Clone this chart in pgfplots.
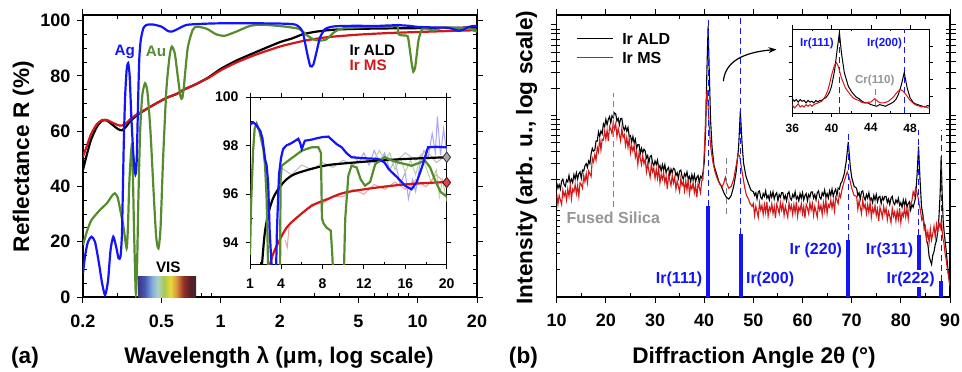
\documentclass[border=0pt]{standalone}
\usepackage{pgfplots}
\pgfplotsset{compat=1.18}
\usepackage{pgfplotstable}
\usepackage{fontspec}
\setmainfont{Liberation Sans}
\usetikzlibrary{arrows.meta}
\definecolor{agblue}{RGB}{20,20,250}
\definecolor{augreen}{RGB}{85,140,45}
\definecolor{irred}{RGB}{210,25,25}
\definecolor{labgray}{RGB}{150,150,150}
\definecolor{v1}{RGB}{60,50,130}
\definecolor{v2}{RGB}{70,90,180}
\definecolor{v3}{RGB}{130,170,220}
\definecolor{v4}{RGB}{170,210,200}
\definecolor{v5}{RGB}{170,200,80}
\definecolor{v6}{RGB}{230,220,60}
\definecolor{v7}{RGB}{220,150,60}
\definecolor{v8}{RGB}{150,50,40}
\definecolor{v9}{RGB}{90,30,40}
\definecolor{v10}{RGB}{60,40,40}
\pgfdeclarehorizontalshading{vis}{100bp}{color(0bp)=(v1); color(25bp)=(v1); color(31bp)=(v2); color(37bp)=(v3); color(42bp)=(v4); color(47.5bp)=(v5); color(53bp)=(v6); color(58bp)=(v7); color(64bp)=(v8); color(70bp)=(v9); color(75bp)=(v10); color(100bp)=(v10)}

\pgfplotsset{
  mixticks/.style={
    tick align=outside,
    major tick length=2.8pt,
    every tick/.style={black, line width=0.5pt},
    /pgf/number format/assume math mode=true,
  },
}

\pgfplotstableread{
x d
10.00 1.26
10.25 1.20
10.50 1.24
10.75 1.19
11.00 1.28
11.25 1.30
11.50 1.24
11.75 1.22
12.00 1.29
12.25 1.27
12.50 1.34
12.75 1.26
13.00 1.30
13.25 1.26
13.50 1.35
13.75 1.30
14.00 1.37
14.25 1.30
14.50 1.36
14.75 1.38
15.00 1.31
15.25 1.40
15.50 1.39
15.75 1.45
16.00 1.47
16.25 1.43
16.50 1.50
16.75 1.47
17.00 1.58
17.25 1.64
17.50 1.61
17.75 1.62
18.00 1.72
18.25 1.72
18.50 1.82
18.75 1.77
19.00 1.83
19.25 1.80
19.50 1.91
19.75 1.88
20.00 1.96
20.25 1.90
20.50 1.96
20.75 1.99
21.00 1.92
21.25 2.00
21.50 1.98
21.75 2.03
22.00 2.02
22.25 1.94
22.50 1.97
22.75 1.90
23.00 1.97
23.25 1.97
23.50 1.88
23.75 1.84
24.00 1.88
24.25 1.83
24.50 1.87
24.75 1.77
25.00 1.78
25.25 1.71
25.50 1.77
25.75 1.70
26.00 1.74
26.25 1.64
26.50 1.68
26.75 1.68
27.00 1.58
27.25 1.64
27.50 1.59
27.75 1.63
28.00 1.61
28.25 1.53
28.50 1.56
28.75 1.48
29.00 1.55
29.25 1.56
29.50 1.48
29.75 1.45
30.00 1.50
30.25 1.46
30.50 1.51
30.75 1.42
31.00 1.45
31.25 1.39
31.50 1.46
31.75 1.40
32.00 1.46
32.25 1.37
32.50 1.41
32.75 1.43
33.00 1.34
33.25 1.41
33.50 1.37
33.75 1.42
34.00 1.41
34.25 1.34
34.50 1.37
34.75 1.31
35.00 1.39
35.25 1.40
35.50 1.33
35.75 1.30
36.00 1.36
36.25 1.33
36.50 1.38
36.75 1.30
37.00 1.33
37.25 1.27
37.50 1.35
37.75 1.29
38.00 1.35
38.25 1.27
38.50 1.32
38.75 1.34
39.00 1.26
39.25 1.33
39.50 1.31
39.75 1.37
40.00 1.48
40.30 1.85
40.55 2.50
40.80 2.99
41.05 2.45
41.30 1.95
41.60 1.65
42.00 1.45
42.50 1.36
43.00 1.27
43.50 1.22
44.00 1.15
44.50 1.10
45.00 1.08
45.50 1.12
46.00 1.22
46.50 1.38
47.00 1.65
47.35 2.05
47.70 1.70
48.00 1.48
48.50 1.33
49.00 1.25
49.50 1.18
50.00 1.16
50.25 1.12
50.50 1.15
50.75 1.08
51.00 1.16
51.25 1.17
51.50 1.10
51.75 1.08
52.00 1.14
52.25 1.11
52.50 1.17
52.75 1.09
53.00 1.12
53.25 1.07
53.50 1.15
53.75 1.10
54.00 1.16
54.25 1.08
54.50 1.13
54.75 1.15
55.00 1.06
55.25 1.13
55.50 1.10
55.75 1.15
56.00 1.15
56.25 1.08
56.50 1.12
56.75 1.06
57.00 1.14
57.25 1.16
57.50 1.09
57.75 1.07
58.00 1.13
58.25 1.10
58.50 1.16
58.75 1.08
59.00 1.11
59.25 1.06
59.50 1.14
59.75 1.09
60.00 1.15
60.25 1.07
60.50 1.12
60.75 1.14
61.00 1.06
61.25 1.13
61.50 1.10
61.75 1.16
62.00 1.16
62.25 1.09
62.50 1.13
62.75 1.07
63.00 1.15
63.25 1.17
63.50 1.10
63.75 1.08
64.00 1.15
64.25 1.12
64.50 1.18
64.75 1.10
65.00 1.14
65.25 1.09
65.50 1.17
65.75 1.12
66.00 1.19
66.25 1.11
66.50 1.16
66.75 1.19
67.00 1.12
67.25 1.20
67.50 1.19
67.75 1.25
68.00 1.27
68.50 1.36
68.90 1.50
69.30 1.71
69.70 1.45
70.00 1.32
70.50 1.22
71.00 1.20
71.25 1.12
71.50 1.15
71.75 1.08
72.00 1.16
72.25 1.17
72.50 1.10
72.75 1.07
73.00 1.13
73.25 1.09
73.50 1.15
73.75 1.07
74.00 1.09
74.25 1.04
74.50 1.12
74.75 1.07
75.00 1.13
75.25 1.05
75.50 1.10
75.75 1.11
76.00 1.03
76.25 1.10
76.50 1.07
76.75 1.11
77.00 1.11
77.25 1.04
77.50 1.08
77.75 1.02
78.00 1.09
78.25 1.11
78.50 1.04
78.75 1.02
79.00 1.07
79.25 1.04
79.50 1.09
79.75 1.01
80.00 1.04
80.25 0.99
80.50 1.07
80.75 1.01
81.00 1.07
81.25 0.99
81.50 1.03
81.75 1.05
82.00 0.96
82.25 1.02
82.50 0.99
82.75 1.04
83.00 1.10
83.30 1.35
83.60 1.66
83.90 1.30
84.20 1.00
84.50 0.90
84.75 0.80
85.00 0.74
85.25 0.62
85.50 0.58
85.75 0.45
86.00 0.40
86.25 0.36
86.50 0.46
86.75 0.50
87.00 0.58
87.25 0.62
87.50 0.72
87.75 0.88
88.00 1.15
88.20 1.55
88.40 1.15
88.60 0.85
88.80 0.72
89.00 0.62
89.25 0.50
89.50 0.35
89.75 0.22
90.00 0.12
}\xrdald

\pgfplotstableread{
x d
10.00 1.14
10.25 1.02
10.50 1.12
10.75 1.07
11.00 1.02
11.25 1.18
11.50 1.11
11.75 1.16
12.00 1.07
12.25 1.19
12.50 1.11
12.75 1.23
13.00 1.08
13.25 1.19
13.50 1.16
13.75 1.24
14.00 1.14
14.25 1.23
14.50 1.11
14.75 1.26
15.00 1.24
15.25 1.20
15.50 1.34
15.75 1.27
16.00 1.36
16.25 1.26
16.50 1.39
16.75 1.36
17.00 1.33
17.25 1.53
17.50 1.49
17.75 1.57
18.00 1.51
18.25 1.65
18.50 1.60
18.75 1.75
19.00 1.62
19.25 1.74
19.50 1.73
19.75 1.83
20.00 1.74
20.25 1.84
20.50 1.72
20.75 1.88
21.00 1.85
21.25 1.80
21.50 1.93
21.75 1.85
22.00 1.91
22.25 1.77
22.50 1.86
22.75 1.79
23.00 1.72
23.25 1.86
23.50 1.76
23.75 1.79
24.00 1.67
24.25 1.76
24.50 1.65
24.75 1.75
25.00 1.59
25.25 1.67
25.50 1.61
25.75 1.67
26.00 1.54
26.25 1.60
26.50 1.46
26.75 1.59
27.00 1.53
27.25 1.46
27.50 1.56
27.75 1.47
28.00 1.52
28.25 1.38
28.50 1.47
28.75 1.39
29.00 1.32
29.25 1.47
29.50 1.38
29.75 1.42
30.00 1.31
30.25 1.41
30.50 1.31
30.75 1.42
31.00 1.26
31.25 1.35
31.50 1.30
31.75 1.37
32.00 1.26
32.25 1.33
32.50 1.19
32.75 1.34
33.00 1.29
33.25 1.23
33.50 1.34
33.75 1.26
34.00 1.32
34.25 1.19
34.50 1.28
34.75 1.22
35.00 1.16
35.25 1.31
35.50 1.23
35.75 1.27
36.00 1.17
36.25 1.28
36.50 1.18
36.75 1.30
37.00 1.14
37.25 1.23
37.50 1.19
37.75 1.26
38.00 1.15
38.25 1.23
38.50 1.10
38.75 1.25
39.00 1.21
39.25 1.15
39.50 1.28
39.75 1.30
40.10 1.70
40.40 2.15
40.60 2.28
40.85 2.05
41.10 1.80
41.40 1.62
41.80 1.48
42.20 1.38
42.70 1.30
43.20 1.24
43.70 1.22
44.00 1.26
44.30 1.32
44.60 1.25
45.00 1.20
45.50 1.22
46.00 1.30
46.50 1.45
46.90 1.57
47.20 1.56
47.50 1.45
47.80 1.35
48.20 1.22
48.60 1.12
49.00 1.08
49.25 1.04
49.50 1.02
49.75 1.00
50.00 1.03
50.25 0.90
50.50 1.00
50.75 0.94
51.00 0.88
51.25 1.04
51.50 0.96
51.75 1.01
52.00 0.91
52.25 1.02
52.50 0.93
52.75 1.05
53.00 0.89
53.25 0.99
53.50 0.95
53.75 1.03
54.00 0.92
54.25 1.00
54.50 0.87
54.75 1.02
55.00 0.98
55.25 0.92
55.50 1.04
55.75 0.96
56.00 1.03
56.25 0.90
56.50 1.00
56.75 0.94
57.00 0.88
57.25 1.04
57.50 0.96
57.75 1.01
58.00 0.91
58.25 1.02
58.50 0.93
58.75 1.05
59.00 0.89
59.25 0.99
59.50 0.95
59.75 1.03
60.00 0.92
60.25 1.00
60.50 0.87
60.75 1.02
61.00 0.98
61.25 0.92
61.50 1.04
61.75 0.96
62.00 1.03
62.25 0.90
62.50 1.00
62.75 0.94
63.00 0.88
63.25 1.04
63.50 0.96
63.75 1.01
64.00 0.91
64.25 1.04
64.50 0.95
64.75 1.07
65.00 0.92
65.25 1.02
65.50 0.99
65.75 1.07
66.00 0.98
66.25 1.06
66.50 0.95
66.75 1.10
67.00 1.07
67.25 1.03
67.50 1.14
67.75 1.10
68.00 1.18
68.50 1.28
69.10 1.38
69.60 1.30
70.00 1.20
70.50 1.12
71.00 1.11
71.25 0.97
71.50 1.06
71.75 0.99
72.00 0.92
72.25 1.07
72.50 0.98
72.75 1.02
73.00 0.92
73.25 1.02
73.50 0.93
73.75 1.04
74.00 0.88
74.25 0.98
74.50 0.93
74.75 1.01
75.00 0.90
75.25 0.97
75.50 0.84
75.75 0.99
76.00 0.94
76.25 0.88
76.50 1.00
76.75 0.92
77.00 0.98
77.25 0.85
77.50 0.94
77.75 0.89
78.00 0.82
78.25 0.98
78.50 0.89
78.75 0.94
79.00 0.84
79.25 0.95
79.50 0.86
79.75 0.98
80.00 0.82
80.25 0.93
80.50 0.89
80.75 0.98
81.00 0.88
81.25 0.97
81.50 0.86
81.75 1.01
82.00 1.03
82.25 1.06
82.50 1.16
82.75 1.12
83.00 1.20
83.25 1.16
83.50 1.10
83.75 1.02
84.00 0.95
84.25 0.85
84.50 0.88
84.75 0.74
85.00 0.78
85.25 0.64
85.50 0.72
85.75 0.60
86.00 0.75
86.25 0.63
86.50 0.70
86.75 0.78
87.00 0.66
87.25 0.80
87.50 0.72
87.75 0.82
88.00 0.76
88.25 0.85
88.50 0.66
88.75 0.60
89.00 0.48
89.25 0.40
89.50 0.30
89.75 0.22
90.00 0.12
}\xrdms

\begin{document}
\begin{tikzpicture}[font=\bfseries]
\useasboundingbox (0,0) rectangle (481pt,185.5pt);

% ---------------- Panel (a) ----------------
\begin{axis}[
  mixticks,
  at={(41.5pt,37pt)}, anchor=south west,
  width=197pt, height=141pt, scale only axis,
  xmode=log, xmin=0.2, xmax=20, ymin=0, ymax=102,
  xtick={0.2,0.5,1,2,5,10,20}, xticklabels={0.2,0.5,1,2,5,10,20},
  ytick={0,20,40,60,80,100},
  extra x ticks={0.3,0.4,0.6,0.7,0.8,0.9,3,4,6,7,8,9}, extra x tick labels={},
  extra y ticks={5,10,15,25,30,35,45,50,55,65,70,75,85,90,95}, extra y tick labels={},
  extra x tick style={tick align=inside, major tick length=1.8pt},
  extra y tick style={tick align=inside, major tick length=1.8pt},
  tick label style={font=\bfseries\fontsize{9}{9}\selectfont},
  xticklabel style={yshift=-2.5pt},
  axis line style={line width=0.6pt},
]
\shade[shading=vis] (axis cs:0.38,0) rectangle (axis cs:0.75,7.35);
\addplot[black, line width=1.1pt, smooth, tension=0.4] coordinates {
(0.2,46) (0.21,52) (0.22,57) (0.235,61.5) (0.25,63.8) (0.265,63.8) (0.28,62.5) (0.3,60.8) (0.315,60.3) (0.33,61.5) (0.35,63.8) (0.38,66) (0.42,68) (0.47,70) (0.53,72) (0.6,73.5) (0.65,75) (0.75,77) (0.87,79.5) (1.0,82.5) (1.2,85.5) (1.5,88.5) (2,92.2) (2.3,93.5) (2.6,95.0) (3,95.9) (3.5,96.5) (4,96.8) (5,97.0) (7,97.15) (10,97.25) (15,97.4) (20,97.5)};
\addplot[irred, line width=1.1pt, smooth, tension=0.4] coordinates {
(0.2,50.8) (0.21,55) (0.22,59) (0.235,62.5) (0.25,64) (0.265,64) (0.28,63.2) (0.3,62.2) (0.315,62) (0.33,62.8) (0.35,64.5) (0.38,66.3) (0.42,68) (0.47,70) (0.53,72) (0.6,73.5) (0.65,75) (0.75,77) (0.87,79.3) (1.0,82) (1.2,84.8) (1.5,87.6) (2,90.6) (2.5,92.3) (2.8,93) (3.5,94) (5,94.9) (7,95.45) (10,95.85) (15,96.25) (20,96.5)};
\addplot[augreen, line width=1.1pt, smooth, tension=0.4] coordinates {
(0.2,18.8) (0.21,24) (0.221,27.9) (0.244,31.5) (0.265,34) (0.28,36.5) (0.29,37.5) (0.3,36) (0.31,31) (0.321,25.4) (0.333,17.6) (0.338,25) (0.344,42) (0.353,54.4) (0.358,45) (0.363,25) (0.368,8) (0.371,1.4) (0.376,10) (0.382,35) (0.39,60) (0.4,73) (0.413,77.3) (0.425,74) (0.44,60) (0.455,40) (0.47,22) (0.483,17.6) (0.495,25) (0.51,50) (0.53,75) (0.55,87) (0.565,90.6) (0.585,88) (0.605,80) (0.625,72.5) (0.638,71.9) (0.65,76) (0.68,90) (0.72,96.5) (0.756,97.8) (0.85,97) (0.95,95) (1.05,94.5) (1.2,96) (1.4,98) (1.6,98.5) (2,98) (2.5,97) (2.7,95) (3.0,93) (3.4,93) (3.8,96) (4.2,97.2) (5,97.5) (6,97.8) (7.5,98) (7.9,97.9) (8.0,95) (8.5,94.6) (8.9,94.3) (9.1,90) (9.3,85) (9.5,81.5) (9.7,83) (9.9,88) (10.1,93) (10.5,96.8) (11,97.1) (12,96.4) (13,97.2) (14,97.5) (16,97.2) (18,97.3) (19,96.6) (20,96.0)};
\addplot[agblue, line width=1.1pt, smooth, tension=0.4] coordinates {
(0.2,8.6) (0.205,15) (0.212,20) (0.221,21.8) (0.23,20) (0.24,13) (0.25,5) (0.259,0.7) (0.268,6) (0.276,17) (0.285,21.8) (0.295,18) (0.303,14) (0.31,14.6) (0.315,22) (0.318,35) (0.322,55) (0.327,72) (0.333,82) (0.339,84.6) (0.345,80) (0.352,65) (0.36,52) (0.367,45) (0.371,44.8) (0.375,50) (0.38,68) (0.386,85.8) (0.393,93) (0.405,97.2) (0.42,98.4) (0.45,98.6) (0.5,97.8) (0.54,96.2) (0.565,96.0) (0.6,96.8) (0.67,98.4) (0.8,98.8) (1,99) (1.5,99) (2,98.9) (2.4,98.5) (2.6,96) (2.75,88) (2.85,83.5) (2.95,84) (3.05,88) (3.2,94) (3.4,97) (3.7,97.8) (4,98) (5,98.1) (6,98) (7,98.2) (8,98.3) (9,98.1) (10,97.7) (12,97.5) (14,97.4) (15,97.0) (16,96.4) (17,96.6) (18,97.6) (19,98.0) (20,98.0)};
\node[agblue, font=\bfseries\fontsize{7.6}{8}\selectfont] at (axis cs:0.326,88.8) {Ag};
\node[augreen, font=\bfseries\fontsize{7.6}{8}\selectfont] at (axis cs:0.469,88.8) {Au};
\node[black, anchor=west, font=\bfseries\fontsize{7.6}{8}\selectfont] at (axis cs:4.15,89.4) {Ir ALD};
\node[irred, anchor=west, font=\bfseries\fontsize{7.6}{8}\selectfont] at (axis cs:4.15,84.0) {Ir MS};
\node[font=\bfseries\fontsize{7.6}{8}\selectfont] at (axis cs:0.542,10.8) {VIS};
\end{axis}

% ---------------- Inset (a) ----------------
\begin{axis}[
  mixticks,
  at={(125pt,53.2pt)}, anchor=south west,
  width=98.35pt, height=83.8pt, scale only axis,
  axis background/.style={fill=white},
  xmin=1, xmax=20, ymin=93.1, ymax=100,
  xtick={1,4,8,12,16,20}, ytick={94,96,98,100},
  extra x ticks={2,6,10,14,18}, extra x tick labels={},
  extra y ticks={95,97,99}, extra y tick labels={},
  extra x tick style={tick align=inside, major tick length=1.5pt},
  extra y tick style={tick align=inside, major tick length=1.5pt},
  major tick length=2.2pt,
  tick label style={font=\bfseries\fontsize{7}{7}\selectfont},
  xticklabel style={yshift=-1.5pt},
  axis line style={line width=0.5pt},
]
\addplot[blue!35, line width=0.5pt] coordinates {(11,97.6) (11.5,97.3) (12,97.7) (12.5,97.2) (13,97.8) (13.5,97.3) (14,97.7) (14.5,97.0) (15,97.4) (15.5,96.4) (16,96.9) (16.3,95.8) (16.7,96.6) (17,96.1) (17.4,97.2) (17.8,97.8) (18.2,97.5) (18.6,98.5) (18.9,97.7) (19.1,99.2) (19.4,97.6) (19.7,98.7) (20,97.7)};
\addplot[augreen!40, line width=0.5pt] coordinates {(13,97.4) (13.5,97.8) (14,97.4) (14.5,97.7) (15,97.0) (15.5,97.5) (16,96.9) (16.5,97.4) (17,96.8) (17.5,97.6) (18,97.1) (18.5,96.5) (19,97.0) (19.3,95.9) (19.6,96.6) (20,95.7)};
\addplot[gray!50, line width=0.5pt] coordinates {(4,97.1) (5,96.8) (6,97.2) (7,97.0) (8,97.3) (9,97.1) (10,97.4) (11,97.2) (12,97.5) (13,97.3) (14,97.6) (15,97.3) (16,97.7) (17,97.4) (18,97.8) (19,97.3) (20,97.6)};
\addplot[irred!40, line width=0.5pt] coordinates {(4.4,94.1) (4.6,93.8) (4.8,94.8) (6,95.2) (7,95.6) (8,95.6) (9,95.9) (10,95.9) (11,96.2) (12,96.0) (13,96.4) (14,96.2) (15,96.5) (16,96.2) (17,96.6) (18,96.3) (19,96.8) (20,96.4)};
\addplot[black, line width=1.1pt, smooth] coordinates {(2.05,92.5) (2.4,94.3) (2.77,95.2) (3.2,95.8) (3.73,96.21) (4.5,96.6) (5.35,96.83) (7,97.05) (8.57,97.2) (11,97.3) (13.4,97.38) (16,97.45) (20,97.52)};
\addplot[irred, line width=1.1pt, smooth] coordinates {(2.75,92.8) (3.2,93.5) (3.73,94.0) (4.5,94.6) (5.35,94.97) (6.96,95.52) (8.5,95.8) (10.2,96.07) (13.4,96.28) (16.5,96.42) (20,96.5)};
\addplot[augreen, line width=1.1pt] coordinates {(1.0,93.5) (1.1,95.5) (1.3,97.8) (1.45,98.7) (1.64,98.9) (1.9,98.6) (2.29,97.86) (2.45,97.2) (2.6,95.9) (2.7,94) (2.77,92.5) (3.9,92.5) (3.95,96.5) (4.06,97.17) (4.7,97.38) (5.4,97.6) (6.0,97.79) (6.96,97.93) (7.6,97.93) (7.85,97.7) (7.95,95.0) (8.1,94.8) (8.4,94.62) (8.8,94.5) (8.95,93.5) (9.05,92.5) (10.05,92.5) (10.2,95) (10.5,96.76) (10.8,97.17) (11.3,97.1) (11.7,96.6) (12.1,96.35) (12.6,96.5) (13.1,97.24) (14.0,97.52) (14.6,97.4) (15.3,97.31) (16.6,97.17) (17.9,97.38) (18.4,97.1) (18.9,96.55) (19.4,96.1) (19.9,95.93) (20,95.95)};
\addplot[agblue, line width=1.1pt] coordinates {(1,98.85) (1.3,98.96) (1.6,98.85) (2,98.6) (2.2,98.3) (2.45,97.45) (2.6,97.2) (2.75,96.5) (2.9,94.5) (3.05,93.3) (3.2,92.5) (3.5,92.5) (3.6,94.5) (3.8,96.8) (4.0,97.5) (4.2,97.86) (4.5,98.0) (5.0,98.1) (5.67,98.28) (5.85,98.1) (6.0,97.86) (6.3,98.2) (7.0,98.25) (7.44,98.3) (8.0,98.35) (8.57,98.37) (9.0,98.2) (9.4,98.05) (9.86,97.93) (10.3,97.7) (10.8,97.52) (12,97.48) (13.4,97.45) (14.0,97.3) (14.4,97.03) (15.2,96.7) (16.0,96.34) (16.6,96.2) (17.1,96.5) (17.6,97.1) (18.2,97.93) (19,97.95) (19.9,97.93) (20,97.93)};
\addplot[only marks, mark=diamond*, mark size=2.6pt, mark options={fill=gray!70, draw=gray!40!black, line width=0.4pt}] coordinates {(20,97.52)};
\addplot[only marks, mark=diamond*, mark size=2.6pt, mark options={fill=irred!80, draw=irred!40!black, line width=0.4pt}] coordinates {(20,96.48)};
\end{axis}

% ---------------- Panel (b) ----------------
\begin{axis}[
  mixticks,
  at={(278.35pt,37pt)}, anchor=south west,
  width=196.65pt, height=141pt, scale only axis,
  xmin=10, xmax=90, ymode=log, ymin=1, ymax=1288,
  xtick={10,20,...,90},
  ytick={10,100,1000}, yticklabels={},
  extra x ticks={15,25,...,85}, extra x tick labels={},
  extra y ticks={2,3,4,5,6,7,8,9,20,30,40,50,60,70,80,90,200,300,400,500,600,700,800,900}, extra y tick labels={},
  extra x tick style={tick align=inside, major tick length=1.8pt},
  extra y tick style={tick align=inside, major tick length=1.8pt},
  tick label style={font=\bfseries\fontsize{9}{9}\selectfont},
  xticklabel style={yshift=-2pt},
  axis line style={line width=0.6pt},
]
\addplot[black, line width=0.55pt] table[x=x, y expr={10^(\thisrow{d})}] {\xrdald};
\addplot[irred, line width=0.55pt] table[x=x, y expr={10^(\thisrow{d})}] {\xrdms};
\addplot[ycomb, agblue, line width=2pt] coordinates {(40.8,10) (47.4,5.01) (69.3,4.27) (83.6,4.79) (88.2,1.51)};
\addplot[agblue, densely dashed, line width=0.6pt] coordinates {(40.8,10) (40.8,1288)};
\addplot[agblue, densely dashed, line width=0.6pt] coordinates {(47.4,5.01) (47.4,1288)};
\addplot[agblue, densely dashed, line width=0.6pt] coordinates {(69.3,4.27) (69.3,69.2)};
\addplot[agblue, densely dashed, line width=0.6pt] coordinates {(83.6,4.79) (83.6,69.2)};
\addplot[agblue, densely dashed, line width=0.6pt] coordinates {(88.2,1.51) (88.2,69.2)};
\addplot[gray, densely dashed, line width=0.6pt] coordinates {(21.5,9.8) (21.5,178)};
\addplot[gray, densely dashed, line width=0.6pt] coordinates {(44.5,8.3) (44.5,37)};
% legend
\draw[black, line width=0.8pt] (axis cs:14.1,708) -- (axis cs:21.5,708);
\node[anchor=west, font=\bfseries\fontsize{8}{9}\selectfont] at (axis cs:21.9,708) {Ir ALD};
\draw[irred, line width=0.8pt] (axis cs:14.1,437) -- (axis cs:21.5,437);
\node[anchor=west, font=\bfseries\fontsize{8}{9}\selectfont] at (axis cs:21.9,437) {Ir MS};
\node[labgray, font=\bfseries\fontsize{8}{9}\selectfont] at (axis cs:21.5,7.41) {Fused Silica};
\node[agblue, font=\bfseries\fontsize{8}{9}\selectfont] at (axis cs:34.9,1.585) {Ir(111)};
\node[agblue, font=\bfseries\fontsize{8}{9}\selectfont] at (axis cs:53.4,1.585) {Ir(200)};
\node[agblue, font=\bfseries\fontsize{8}{9}\selectfont] at (axis cs:62.7,3.31) {Ir (220)};
\node[agblue, font=\bfseries\fontsize{8}{9}\selectfont] at (axis cs:77.7,3.31) {Ir(311)};
\node[agblue, fill=white, inner sep=0.5pt, font=\bfseries\fontsize{8}{9}\selectfont] at (axis cs:82.0,1.585) {Ir(222)};
\draw[-{Stealth[length=4pt]}, line width=0.6pt] (axis cs:43.9,240) to[out=85, in=185] (axis cs:54.7,537);
\end{axis}

% ---------------- Inset (b) ----------------
\begin{axis}[
  mixticks,
  at={(396.15pt,129pt)}, anchor=south west,
  width=68.7pt, height=42pt, scale only axis,
  axis background/.style={fill=white},
  xmin=36, xmax=50, ymin=0, ymax=1,
  xtick={36,40,44,48}, ytick={0.2,0.4,0.6,0.8}, yticklabels={},
  extra x ticks={38,42,46}, extra x tick labels={},
  extra x tick style={tick align=inside, major tick length=1.2pt},
  major tick length=1.8pt,
  tick label style={font=\bfseries\fontsize{6}{6}\selectfont},
  axis line style={line width=0.4pt},
  every tick/.style={black, line width=0.3pt},
]
\addplot[agblue, densely dashed, line width=0.6pt] coordinates {(40.8,0) (40.8,1)};
\addplot[agblue, densely dashed, line width=0.6pt] coordinates {(47.4,0) (47.4,1)};
\addplot[gray, densely dashed, line width=0.4pt] coordinates {(44.5,0.09) (44.5,0.3)};
\addplot[black, line width=0.5pt] coordinates {(36,0.17) (36.2,0.14) (36.4,0.16) (36.6,0.13) (36.8,0.16) (37.0,0.14) (37.2,0.15) (37.4,0.12) (37.6,0.15) (37.8,0.13) (38.0,0.14) (38.2,0.12) (38.4,0.15) (38.6,0.13) (38.8,0.15) (39.0,0.15) (39.2,0.17) (39.4,0.18) (39.6,0.21) (39.8,0.25) (40.0,0.32) (40.3,0.50) (40.6,0.78) (40.8,0.96) (41.0,0.72) (41.3,0.48) (41.7,0.32) (42.0,0.26) (42.2,0.23) (42.5,0.19) (42.8,0.17) (43.1,0.14) (43.4,0.12) (43.7,0.12) (44.0,0.10) (44.3,0.09) (44.6,0.08) (44.9,0.10) (45.2,0.09) (45.5,0.08) (45.8,0.10) (46.0,0.11) (46.3,0.13) (46.6,0.17) (46.8,0.22) (47.1,0.33) (47.4,0.48) (47.7,0.30) (48.0,0.18) (48.3,0.13) (48.5,0.11) (48.8,0.10) (49.0,0.09) (49.3,0.08) (49.5,0.07) (49.8,0.09) (50,0.08)};
\addplot[irred, line width=0.5pt] coordinates {(36,0.10) (36.2,0.06) (36.4,0.08) (36.6,0.11) (36.8,0.07) (37.0,0.09) (37.2,0.07) (37.4,0.10) (37.6,0.08) (37.8,0.10) (38.0,0.08) (38.2,0.10) (38.4,0.11) (38.6,0.12) (38.8,0.13) (39.0,0.14) (39.2,0.17) (39.4,0.21) (39.6,0.26) (39.8,0.35) (40.0,0.45) (40.3,0.57) (40.5,0.60) (40.7,0.55) (41.0,0.42) (41.4,0.30) (41.9,0.22) (42.2,0.18) (42.5,0.16) (42.8,0.15) (43.0,0.13) (43.3,0.12) (43.5,0.12) (43.8,0.13) (44.0,0.13) (44.2,0.15) (44.4,0.17) (44.6,0.15) (44.8,0.13) (45.0,0.12) (45.3,0.12) (45.6,0.13) (45.8,0.14) (46.0,0.16) (46.3,0.19) (46.7,0.25) (47.0,0.28) (47.3,0.26) (47.7,0.20) (48.0,0.15) (48.2,0.13) (48.5,0.10) (48.7,0.09) (49.0,0.08) (49.2,0.07) (49.5,0.08) (49.8,0.06) (50,0.06)};
\node[agblue, font=\bfseries\fontsize{5.8}{6}\selectfont] at (axis cs:38.5,0.83) {Ir(111)};
\node[agblue, font=\bfseries\fontsize{5.8}{6}\selectfont] at (axis cs:45.4,0.83) {Ir(200)};
\node[labgray, font=\bfseries\fontsize{5.8}{6}\selectfont] at (axis cs:44.4,0.385) {Cr(110)};
\end{axis}

% ---------------- Outer labels ----------------
\node[rotate=90, font=\bfseries\fontsize{11.3}{12}\selectfont] at (11.7pt,107.2pt) {Reflectance R (\%)};
\node[rotate=90, font=\bfseries\fontsize{11.3}{12}\selectfont] at (263.3pt,106.7pt) {Intensity (arb. u., log scale)};
\node[font=\bfseries\fontsize{11.3}{12}\selectfont] at (12.5pt,6.8pt) {(a)};
\node[font=\bfseries\fontsize{11.3}{12}\selectfont] at (139.5pt,6.8pt) {Wavelength λ (μm, log scale)};
\node[font=\bfseries\fontsize{11.3}{12}\selectfont] at (261.7pt,6.8pt) {(b)};
\node[font=\bfseries\fontsize{11.3}{12}\selectfont] at (377pt,6.8pt) {Diffraction Angle 2θ (°)};
\end{tikzpicture}
\end{document}
